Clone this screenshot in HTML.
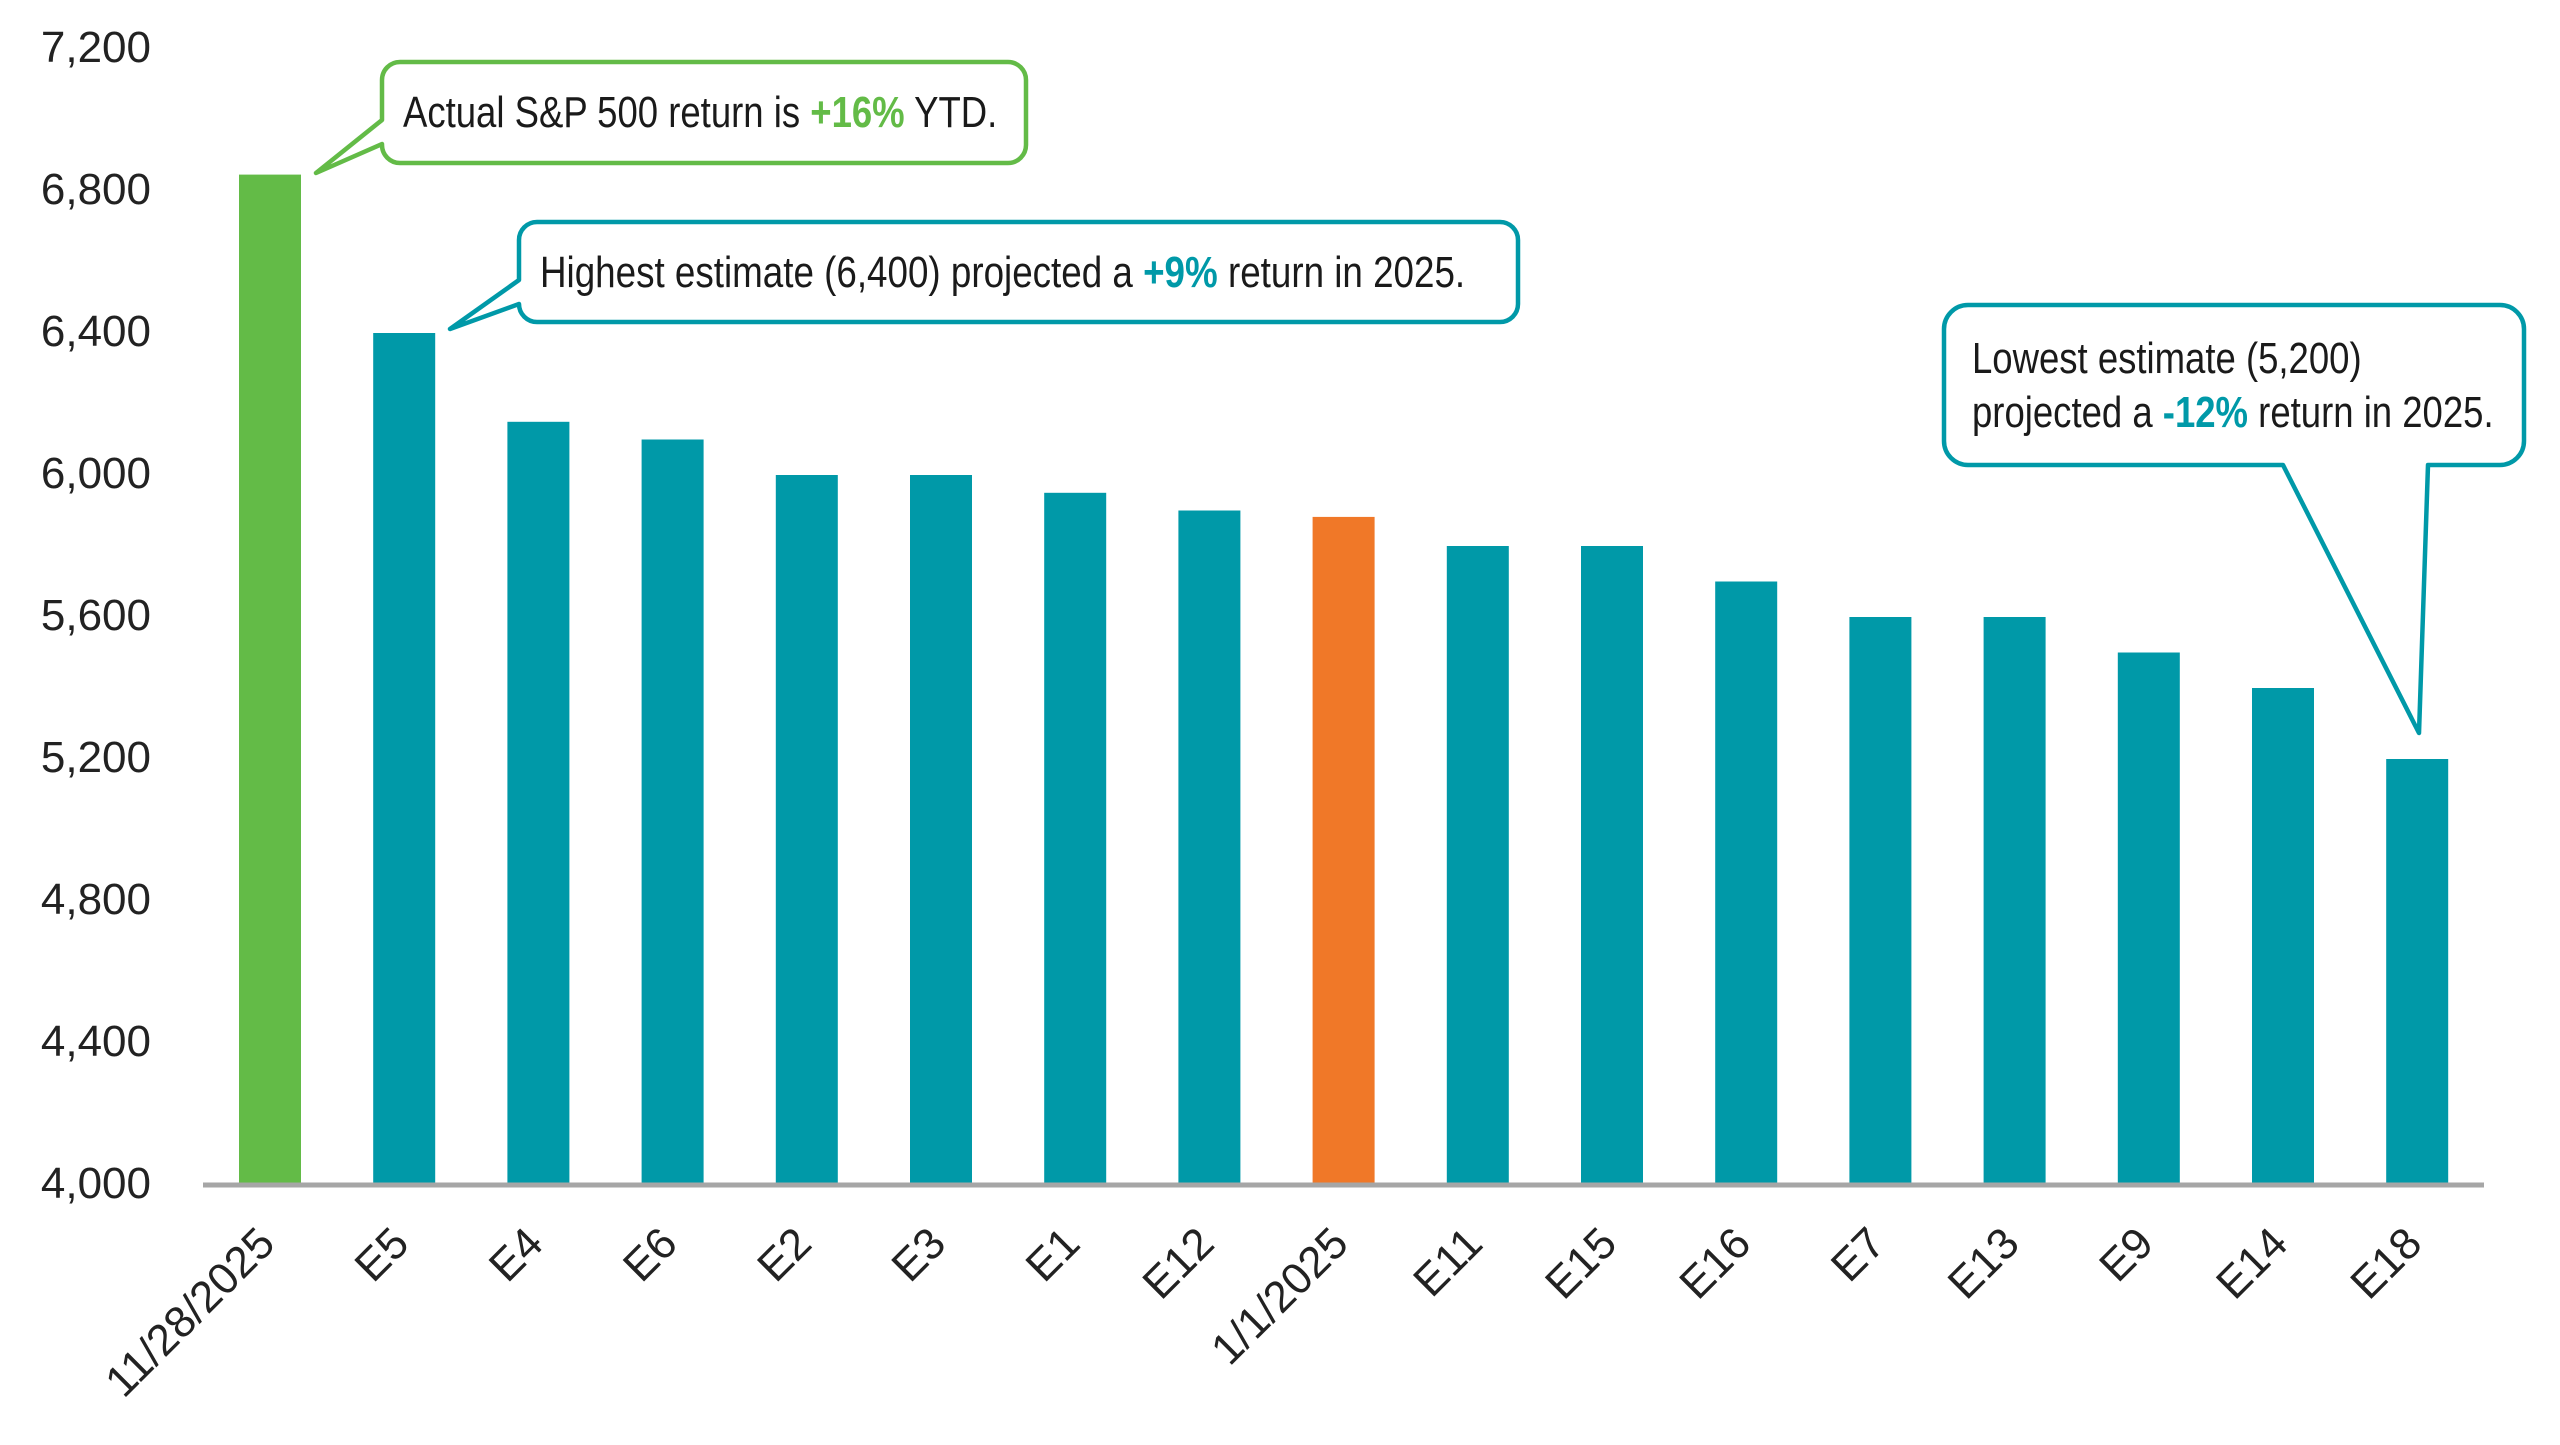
<!DOCTYPE html>
<html>
<head>
<meta charset="utf-8">
<style>
  html, body { margin:0; padding:0; background:#ffffff; }
  svg { display:block; }
  text { font-family: "Liberation Sans", Arial, sans-serif; }
</style>
</head>
<body>
<svg width="2560" height="1445" viewBox="0 0 2560 1445" xmlns="http://www.w3.org/2000/svg">
  <rect x="0" y="0" width="2560" height="1445" fill="#ffffff"/>

  <!-- Y axis labels -->
  <g font-size="44" fill="#222222" text-anchor="end">
    <text x="151" y="62">7,200</text>
    <text x="151" y="204">6,800</text>
    <text x="151" y="346">6,400</text>
    <text x="151" y="488">6,000</text>
    <text x="151" y="630">5,600</text>
    <text x="151" y="772">5,200</text>
    <text x="151" y="914">4,800</text>
    <text x="151" y="1056">4,400</text>
    <text x="151" y="1198">4,000</text>
  </g>

  <!-- Bars -->
  <g>
    <rect x="239.0"  y="174.6" width="62" height="1010.4" fill="#63bb47"/>
    <rect x="373.2"  y="333.0" width="62" height="852.0"  fill="#0099a8"/>
    <rect x="507.4"  y="421.8" width="62" height="763.2"  fill="#0099a8"/>
    <rect x="641.6"  y="439.5" width="62" height="745.5"  fill="#0099a8"/>
    <rect x="775.8"  y="475.0" width="62" height="710.0"  fill="#0099a8"/>
    <rect x="910.0"  y="475.0" width="62" height="710.0"  fill="#0099a8"/>
    <rect x="1044.2" y="492.8" width="62" height="692.2"  fill="#0099a8"/>
    <rect x="1178.4" y="510.5" width="62" height="674.5"  fill="#0099a8"/>
    <rect x="1312.6" y="516.9" width="62" height="668.1"  fill="#f07828"/>
    <rect x="1446.8" y="546.0" width="62" height="639.0"  fill="#0099a8"/>
    <rect x="1581.0" y="546.0" width="62" height="639.0"  fill="#0099a8"/>
    <rect x="1715.2" y="581.5" width="62" height="603.5"  fill="#0099a8"/>
    <rect x="1849.4" y="617.0" width="62" height="568.0"  fill="#0099a8"/>
    <rect x="1983.6" y="617.0" width="62" height="568.0"  fill="#0099a8"/>
    <rect x="2117.8" y="652.5" width="62" height="532.5"  fill="#0099a8"/>
    <rect x="2252.0" y="688.0" width="62" height="497.0"  fill="#0099a8"/>
    <rect x="2386.2" y="759.0" width="62" height="426.0"  fill="#0099a8"/>
  </g>

  <!-- X axis line -->
  <line x1="203" y1="1185" x2="2484" y2="1185" stroke="#a6a6a6" stroke-width="5"/>

  <!-- X axis labels -->
  <g font-size="44" fill="#222222" text-anchor="end">
    <text transform="translate(277,1246) rotate(-45)">11/28/2025</text>
    <text transform="translate(411.2,1246) rotate(-45)">E5</text>
    <text transform="translate(545.4,1246) rotate(-45)">E4</text>
    <text transform="translate(679.6,1246) rotate(-45)">E6</text>
    <text transform="translate(813.8,1246) rotate(-45)">E2</text>
    <text transform="translate(948,1246) rotate(-45)">E3</text>
    <text transform="translate(1082.2,1246) rotate(-45)">E1</text>
    <text transform="translate(1216.4,1246) rotate(-45)">E12</text>
    <text transform="translate(1350.6,1246) rotate(-45)">1/1/2025</text>
    <text transform="translate(1484.8,1246) rotate(-45)">E11</text>
    <text transform="translate(1619,1246) rotate(-45)">E15</text>
    <text transform="translate(1753.2,1246) rotate(-45)">E16</text>
    <text transform="translate(1887.4,1246) rotate(-45)">E7</text>
    <text transform="translate(2021.6,1246) rotate(-45)">E13</text>
    <text transform="translate(2155.8,1246) rotate(-45)">E9</text>
    <text transform="translate(2290,1246) rotate(-45)">E14</text>
    <text transform="translate(2424.2,1246) rotate(-45)">E18</text>
  </g>

  <!-- Callout 1 (green) -->
  <path d="M400,62 H1008 A18,18 0 0 1 1026,80 V145 A18,18 0 0 1 1008,163 H400 A18,18 0 0 1 382,145 V144 L316,173 L382,120 V80 A18,18 0 0 1 400,62 Z"
        fill="#ffffff" stroke="#63bb47" stroke-width="4.5" stroke-linejoin="round"/>
  <g transform="translate(403,127) scale(0.83,1)">
    <text x="0" y="0" font-size="44" fill="#1a1a1a">Actual S&amp;P 500 return is <tspan font-weight="bold" fill="#63bb47">+16%</tspan> YTD.</text>
  </g>

  <!-- Callout 2 (teal) -->
  <path d="M537,222 H1500 A18,18 0 0 1 1518,240 V304 A18,18 0 0 1 1500,322 H537 A18,18 0 0 1 519,304 L450,329 L519,280 V240 A18,18 0 0 1 537,222 Z"
        fill="#ffffff" stroke="#0099a8" stroke-width="4.5" stroke-linejoin="round"/>
  <g transform="translate(540,287) scale(0.836,1)">
    <text x="0" y="0" font-size="44" fill="#1a1a1a">Highest estimate (6,400) projected a <tspan font-weight="bold" fill="#0099a8">+9%</tspan> return in 2025.</text>
  </g>

  <!-- Callout 3 (teal) -->
  <path d="M1968,305 H2500 A24,24 0 0 1 2524,329 V441 A24,24 0 0 1 2500,465 H2428 L2419,733 L2283,465 H1968 A24,24 0 0 1 1944,441 V329 A24,24 0 0 1 1968,305 Z"
        fill="#ffffff" stroke="#0099a8" stroke-width="4.5" stroke-linejoin="round"/>
  <g transform="translate(1972,373) scale(0.83,1)">
    <text x="0" y="0" font-size="44" fill="#1a1a1a">Lowest estimate (5,200)</text>
  </g>
  <g transform="translate(1972,427) scale(0.83,1)">
    <text x="0" y="0" font-size="44" fill="#1a1a1a">projected a <tspan font-weight="bold" fill="#0099a8">-12%</tspan> return in 2025.</text>
  </g>
</svg>
</body>
</html>
